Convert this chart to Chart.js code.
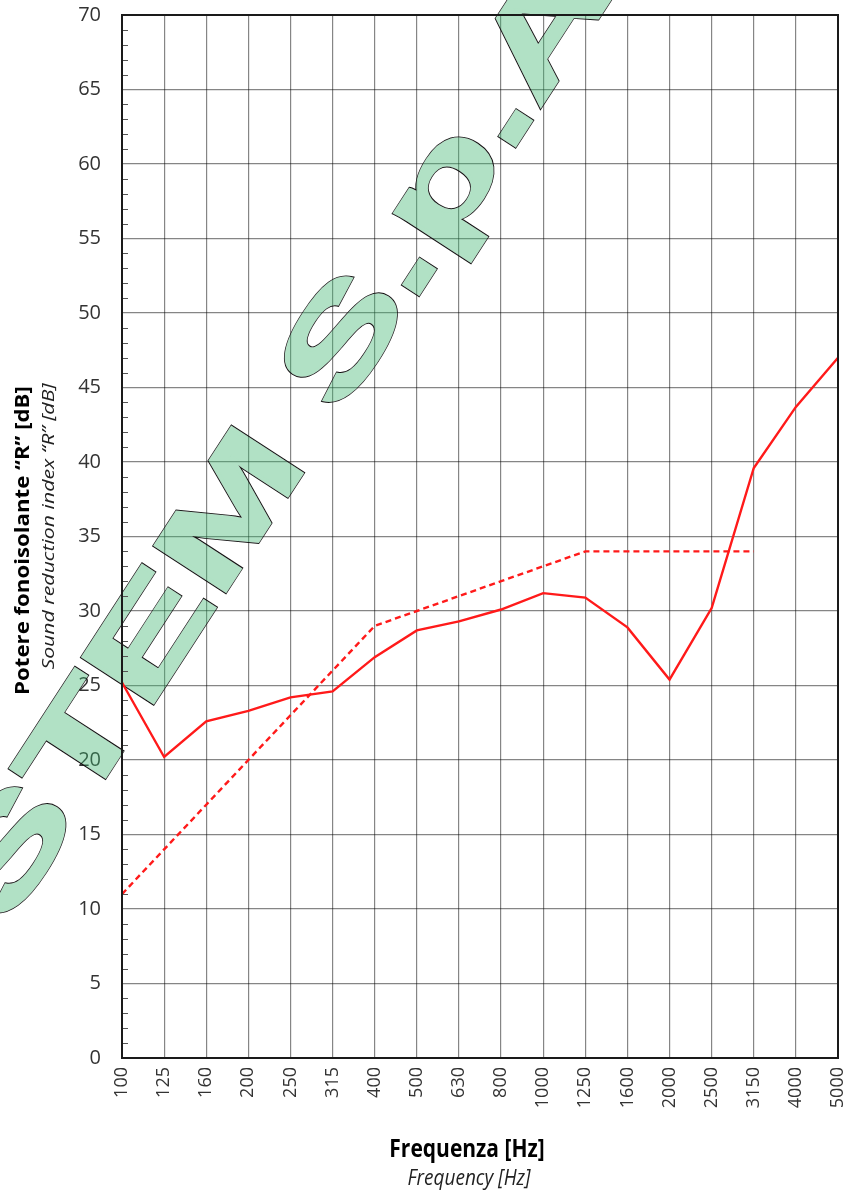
<!DOCTYPE html>
<html>
<head>
<meta charset="utf-8">
<script src="https://cdn.jsdelivr.net/npm/chart.js@4.4.1/dist/chart.umd.min.js"></script>
<style>
  html, body { margin: 0; padding: 0; background: #fff; }
  canvas { display: block; }
</style>
</head>
<body>
<canvas id="grafico" width="859" height="1191"></canvas>
<script>
// dati
const frequenze = ['100', '125', '160', '200', '250', '315', '400', '500', '630', '800',
  '1000', '1250', '1600', '2000', '2500', '3150', '4000', '5000'];
const potereMisurato = [25.2, 20.2, 22.6, 23.3, 24.2, 24.6, 26.9, 28.7, 29.3, 30.1,
  31.2, 30.9, 28.9, 25.4, 30.2, 39.6, 43.7, 47.0];
const curvaRiferimento = [11, 14, 17, 20, 23, 26, 29, 30, 31, 32,
  33, 34, 34, 34, 34, 34, null, null];
const tickAsseY = [0, 5, 10, 15, 20, 25, 30, 35, 40, 45, 50, 55, 60, 65, 70];

const titoloY = 'Potere fonoisolante “R” [dB]';
const sottotitoloY = 'Sound reduction index “R” [dB]';
const titoloX = 'Frequenza [Hz]';
const sottotitoloX = 'Frequency [Hz]';
const filigrana = 'STEM S.p.A.';

const fontBase = '"Open Sans", "Noto Sans", sans-serif';

// prepara il contesto per la scritta inclinata
function impostaFiligrana(c) {
  c.translate(8, 927);
  c.rotate(-57 * Math.PI / 180);
  c.scale(1.62, 1);
  c.font = 'bold 123px "Liberation Sans", Arial, sans-serif';
  c.textBaseline = 'alphabetic';
  c.lineJoin = 'miter';
  c.miterLimit = 4;
}

// filigrana verde sotto le linee (riempimento trasparente + bordo nero)
const pluginFiligrana = {
  id: 'filigrana',
  beforeDatasetsDraw(chart) {
    const ctx = chart.ctx;

    const fondo = document.createElement('canvas');
    fondo.width = chart.width;
    fondo.height = chart.height;
    const f = fondo.getContext('2d');
    impostaFiligrana(f);
    f.fillStyle = 'rgb(60, 180, 110)';
    f.strokeStyle = 'rgb(60, 180, 110)';
    f.lineWidth = 2.6;
    f.fillText(filigrana, 0, 0);
    f.strokeText(filigrana, 0, 0);

    const bordo = document.createElement('canvas');
    bordo.width = chart.width;
    bordo.height = chart.height;
    const b = bordo.getContext('2d');
    impostaFiligrana(b);
    b.strokeStyle = '#111';
    b.lineWidth = 3.9;
    b.strokeText(filigrana, 0, 0);
    b.globalCompositeOperation = 'destination-out';
    b.lineWidth = 2.6;
    b.strokeText(filigrana, 0, 0);
    b.fillText(filigrana, 0, 0);

    ctx.save();
    ctx.globalAlpha = 0.4;
    ctx.drawImage(fondo, 0, 0);
    ctx.globalAlpha = 1;
    ctx.drawImage(bordo, 0, 0);
    ctx.restore();
  }
};

// testo ruotato/allungato (il grafico originale e' un po' stirato)
function scriviTesto(ctx, testo, x, y, font, colore, angolo, sx, sy) {
  ctx.save();
  ctx.translate(x, y);
  ctx.rotate(angolo);
  ctx.scale(sx, sy);
  ctx.font = font;
  ctx.fillStyle = colore;
  ctx.textAlign = 'center';
  ctx.textBaseline = 'middle';
  ctx.fillText(testo, 0, 0);
  ctx.restore();
}

// cornice, tacchette secondarie e titoli degli assi
const pluginCornice = {
  id: 'cornice',
  afterDraw(chart) {
    const ctx = chart.ctx;
    const area = chart.chartArea;
    const y = chart.scales.y;

    ctx.save();
    ctx.strokeStyle = '#555';
    ctx.lineWidth = 1;
    for (let v = y.min + 1; v < y.max; v++) {
      if (v % 5 === 0) continue;
      const py = Math.round(y.getPixelForValue(v)) + 0.5;
      ctx.beginPath();
      ctx.moveTo(area.left, py);
      ctx.lineTo(area.left + 6, py);
      ctx.stroke();
    }

    ctx.strokeStyle = '#1a1a1a';
    ctx.lineWidth = 2;
    ctx.strokeRect(area.left, area.top, area.right - area.left, area.bottom - area.top);
    ctx.restore();

    const centroY = (area.top + area.bottom) / 2;
    scriviTesto(ctx, titoloY, 23, centroY + 4, 'bold 20px ' + fontBase, '#000', -Math.PI / 2, 1.11, 1);
    scriviTesto(ctx, sottotitoloY, 49, centroY - 10, 'italic 17px ' + fontBase, '#222', -Math.PI / 2, 1.25, 1);

    scriviTesto(ctx, titoloX, 467, 1150, 'bold 21px ' + fontBase, '#000', 0, 1, 1.18);
    scriviTesto(ctx, sottotitoloX, 469, 1179, 'italic 19px ' + fontBase, '#222', 0, 1, 1.13);
  }
};

const ctx = document.getElementById('grafico').getContext('2d');
const grafico = new Chart(ctx, {
  type: 'line',
  data: {
    labels: frequenze,
    datasets: [
      {
        label: 'R misurato',
        data: potereMisurato,
        borderColor: '#ff1a1a',
        borderWidth: 2.4,
        pointRadius: 0,
        tension: 0,
        fill: false
      },
      {
        label: 'Curva di riferimento',
        data: curvaRiferimento,
        borderColor: '#ff1a1a',
        borderWidth: 2.4,
        borderDash: [6, 4],
        pointRadius: 0,
        tension: 0,
        fill: false,
        spanGaps: false
      }
    ]
  },
  options: {
    responsive: false,
    animation: false,
    layout: { padding: { top: 15, right: 21, left: 0, bottom: 0 } },
    plugins: {
      legend: { display: false },
      tooltip: { enabled: false }
    },
    scales: {
      x: {
        offset: false,
        grid: { color: 'rgba(0,0,0,0.48)', lineWidth: 1.2, drawTicks: false },
        border: { display: false },
        ticks: {
          autoSkip: false,
          maxRotation: 90,
          minRotation: 90,
          padding: 9,
          color: '#333',
          font: { family: fontBase, size: 18 }
        },
        afterFit(scale) {
          scale.height = 133;
          scale.paddingLeft = 0;
          scale.paddingRight = 0;
        }
      },
      y: {
        min: tickAsseY[0],
        max: tickAsseY[tickAsseY.length - 1],
        grid: { color: 'rgba(0,0,0,0.48)', lineWidth: 1.2, drawTicks: false },
        border: { display: false },
        ticks: {
          stepSize: tickAsseY[1] - tickAsseY[0],
          padding: 21,
          color: '#333',
          font: { family: fontBase, size: 20 }
        },
        afterFit(scale) {
          scale.width = 122;
          scale.paddingTop = 0;
          scale.paddingBottom = 0;
        }
      }
    }
  },
  plugins: [pluginFiligrana, pluginCornice]
});
</script>
</body>
</html>
